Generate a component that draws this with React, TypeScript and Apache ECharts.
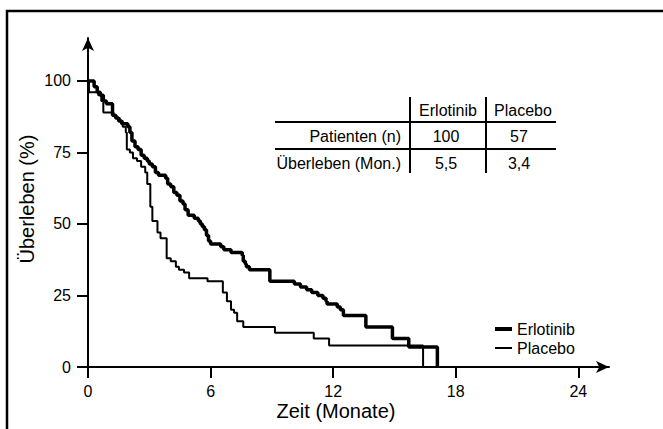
import React, { useEffect, useRef } from "react";
import * as echarts from "echarts";

// Kaplan-Meier step data (month of drop, survival % after drop)
const erlotinibMonths = [0, 0.3, 0.45, 0.6, 0.75, 0.9, 1.2, 1.35, 1.5, 1.65, 1.8, 1.95, 2.05, 2.15, 2.3, 2.45, 2.6, 2.75, 2.9, 3.0, 3.15, 3.3, 3.45, 3.8, 3.9, 4.05, 4.2, 4.35, 4.5, 4.65, 4.75, 4.9, 5.2, 5.4, 5.5, 5.6, 5.7, 5.8, 5.9, 6.0, 6.5, 6.65, 7.0, 7.55, 7.6, 7.7, 7.75, 7.9, 8.9, 10.1, 10.4, 10.7, 10.95, 11.25, 11.5, 11.65, 11.7, 12.2, 12.35, 12.5, 13.6, 14.9, 15.7, 17.1];
const erlotinibSurvival = [100, 98, 96, 95, 93, 92, 88, 87, 86, 85, 85, 84, 82, 79, 77, 76, 74, 73, 72, 71, 70, 68, 67, 66, 64, 63, 61, 60, 58, 57, 55, 53, 52, 51, 50, 49, 48, 46, 44, 43, 42, 41, 40, 39, 37, 36, 35, 34, 30, 29, 28, 27, 26, 25, 24, 23, 22, 21, 20, 18, 14, 10, 7, 0];

const placeboMonths = [0, 0.05, 0.5, 0.65, 0.75, 1.25, 1.4, 1.55, 1.7, 1.85, 1.9, 2.05, 2.2, 2.4, 2.6, 2.8, 2.9, 3.05, 3.15, 3.4, 3.55, 3.85, 4.05, 4.3, 4.45, 4.7, 4.95, 5.85, 6.6, 6.8, 7.0, 7.15, 7.3, 7.6, 9.15, 11.05, 11.8, 16.4];
const placeboSurvival = [100, 96, 95, 93, 89, 88, 87, 86, 84, 82, 76, 75, 73, 72, 70, 68, 64, 56, 51, 47, 45, 38, 37, 35, 34, 33, 31, 30, 26, 23, 20, 19, 16, 14, 12, 10, 7.5, 0];

const xTicks = [0, 6, 12, 18, 24];
const yTicks = [0, 25, 50, 75, 100];

const tableHeader = ["Erlotinib", "Placebo"];
const tableRows = ["Patienten (n)", "Überleben (Mon.)"];
const tableErlotinib = ["100", "5,5"];
const tablePlacebo = ["57", "3,4"];

const FONT = "'Liberation Sans', Arial, Helvetica, sans-serif";

export default function App() {
  const ref = useRef<HTMLDivElement>(null);
  useEffect(() => {
    if (!ref.current) return;
    const chart = echarts.init(ref.current, null, { renderer: "svg" });
    const erl = erlotinibMonths.map((m, i) => [m, erlotinibSurvival[i]]);
    const pla = placeboMonths.map((m, i) => [m, placeboSurvival[i]]);

    const txt = (text: string, x: number, y: number, align: string, size = 16) => ({
      type: "text",
      x,
      y,
      style: { text, fill: "#000", font: `${size}px ${FONT}`, align, verticalAlign: "middle" },
    });
    const line = (x1: number, y1: number, x2: number, y2: number, w = 2) => ({
      type: "line",
      shape: { x1, y1, x2, y2 },
      style: { stroke: "#000", lineWidth: w },
    });
    const legendBase = {
      orient: "vertical",
      left: 495,
      padding: 0,
      itemWidth: 17,
      icon: "rect",
      textStyle: { fontSize: 16, color: "#000", fontFamily: FONT, padding: [0, 0, 0, 0] },
      itemStyle: { color: "#000" },
    };

    chart.setOption({
      animation: false,
      backgroundColor: "#fff",
      textStyle: { fontFamily: FONT },
      grid: { left: 88, right: 54, top: 38, bottom: 62 },
      xAxis: {
        type: "value",
        min: 0,
        max: 25.5,
        splitLine: { show: false },
        axisLine: {
          onZero: false,
          symbol: ["none", "arrow"],
          symbolSize: [9, 13],
          lineStyle: { color: "#000", width: 2 },
        },
        axisTick: { length: 11, lineStyle: { color: "#000", width: 2 }, customValues: xTicks },
        axisLabel: { customValues: xTicks, margin: 16, fontSize: 16, color: "#000", fontFamily: FONT },
      },
      yAxis: {
        type: "value",
        min: 0,
        max: 115,
        splitLine: { show: false },
        axisLine: {
          onZero: false,
          symbol: ["none", "arrow"],
          symbolSize: [9, 13],
          lineStyle: { color: "#000", width: 2 },
        },
        axisTick: { length: 11, lineStyle: { color: "#000", width: 2 }, customValues: yTicks },
        axisLabel: { customValues: yTicks, margin: 17, fontSize: 16, color: "#000", fontFamily: FONT },
      },
      legend: [
        { ...legendBase, top: 321, itemHeight: 4, data: ["Erlotinib"] },
        { ...legendBase, top: 340, itemHeight: 2, data: ["Placebo"] },
      ],
      series: [
        {
          name: "Erlotinib",
          type: "line",
          step: "end",
          symbol: "none",
          data: erl,
          lineStyle: { color: "#000", width: 3.5 },
          itemStyle: { color: "#000" },
          z: 3,
        },
        {
          name: "Placebo",
          type: "line",
          step: "end",
          symbol: "none",
          data: pla,
          lineStyle: { color: "#000", width: 2 },
          itemStyle: { color: "#000" },
          z: 2,
        },
      ],
      graphic: [
        {
          type: "polyline",
          shape: { points: [[7, 429], [7, 11], [663, 11]] },
          style: { stroke: "#000", lineWidth: 2.5, fill: "none" },
        },
        line(275, 122, 556, 122),
        line(275, 149, 556, 149),
        line(410, 97, 410, 173),
        line(486, 97, 486, 173),
        txt(tableHeader[0], 448, 110, "center"),
        txt(tableHeader[1], 523, 110, "center"),
        txt(tableRows[0], 401, 136, "right"),
        txt(tableRows[1], 401, 163, "right"),
        txt(tableErlotinib[0], 446, 136, "center"),
        txt(tableErlotinib[1], 446, 163, "center"),
        txt(tablePlacebo[0], 519, 136, "center"),
        txt(tablePlacebo[1], 519, 163, "center"),
        txt("Zeit (Monate)", 336, 411, "center", 20),
        {
          type: "text",
          x: 27,
          y: 199,
          rotation: Math.PI / 2,
          style: {
            text: "Überleben (%)",
            fill: "#000",
            font: `20px ${FONT}`,
            align: "center",
            verticalAlign: "middle",
          },
        },
      ],
    });
    return () => chart.dispose();
  }, []);
  return (
    <div
      ref={ref}
      style={{ position: "fixed", left: 0, top: 0, width: 663, height: 429, background: "#fff" }}
    />
  );
}
